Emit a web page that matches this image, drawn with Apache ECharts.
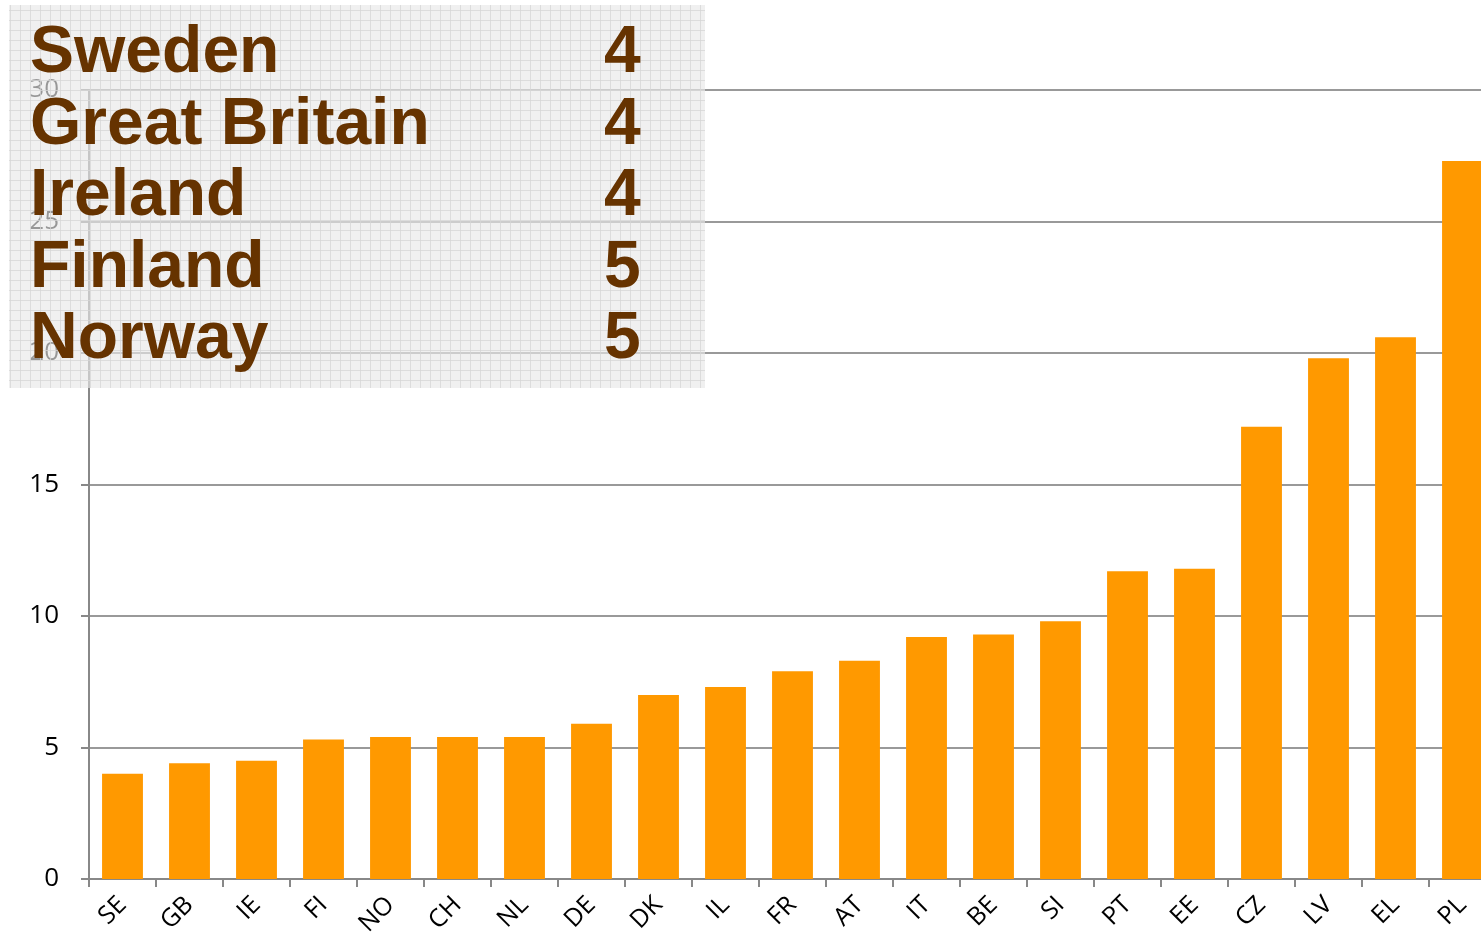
<!DOCTYPE html>
<html>
<head>
<meta charset="utf-8">
<script src="https://cdn.jsdelivr.net/npm/echarts@6/dist/echarts.min.js"></script>
<style>
  html, body { margin: 0; padding: 0; background: #fff; }
  #chart { width: 1481px; height: 943px; }
</style>
</head>
<body>
<div id="chart"></div>
<script>
// categories and values
const countries = ['SE', 'GB', 'IE', 'FI', 'NO', 'CH', 'NL', 'DE', 'DK', 'IL', 'FR',
  'AT', 'IT', 'BE', 'SI', 'PT', 'EE', 'CZ', 'LV', 'EL', 'PL']
const values = [4.0, 4.4, 4.5, 5.3, 5.4, 5.4, 5.4, 5.9, 7.0, 7.3, 7.9,
  8.3, 9.2, 9.3, 9.8, 11.7, 11.8, 17.2, 19.8, 20.6, 27.3]

// the five lowest, shown in the box
const topNames = ['Sweden', 'Great Britain', 'Ireland', 'Finland', 'Norway']
const topRanks = ['4', '4', '4', '5', '5']

// small grid pattern for the box
const pat = document.createElement('canvas')
pat.width = 10
pat.height = 10
const pc = pat.getContext('2d')
pc.fillStyle = 'rgba(232,232,232,0.65)'
pc.fillRect(0, 0, 10, 10)
pc.fillStyle = 'rgba(214,214,214,0.75)'
pc.fillRect(0, 0, 10, 1)
pc.fillRect(0, 0, 1, 10)

const textColor = '#663300'
const boxFont = 'bold 66px "Liberation Sans", Arial, sans-serif'
const boxText = []
topNames.forEach((name, i) => {
  boxText.push({
    type: 'text', z: 101, left: 30, top: 21 + i * 71.5,
    style: { text: name, font: boxFont, fill: textColor }
  })
  boxText.push({
    type: 'text', z: 101, left: 604, top: 21 + i * 71.5,
    style: { text: topRanks[i], font: boxFont, fill: textColor }
  })
})

const chart = echarts.init(document.getElementById('chart'))
chart.setOption({
  animation: false,
  grid: { left: 89, top: 90, bottom: 64, width: 1407, outerBoundsMode: 'none', containLabel: false },
  xAxis: {
    type: 'category',
    data: countries,
    axisLine: { lineStyle: { color: '#888', width: 2 } },
    axisTick: { show: true, length: 8, lineStyle: { color: '#888', width: 2 } },
    axisLabel: {
      rotate: 45, interval: 0, margin: 22,
      color: '#000', fontSize: 25, fontFamily: '"Open Sans", sans-serif'
    }
  },
  yAxis: {
    type: 'value',
    min: 0, max: 30, interval: 5,
    axisLine: { show: true, lineStyle: { color: '#888', width: 2 } },
    axisTick: { show: true, length: 8, lineStyle: { color: '#888', width: 2 } },
    axisLabel: { color: '#000', fontSize: 26, margin: 30, fontFamily: '"Open Sans", sans-serif' },
    splitLine: { lineStyle: { color: '#999', width: 2 } }
  },
  series: [{
    type: 'bar',
    data: values,
    barCategoryGap: '39%',
    itemStyle: { color: '#ff9900' }
  }],
  graphic: [
    {
      type: 'rect', z: 100,
      shape: { x: 9, y: 5, width: 696, height: 383 },
      style: { fill: { image: pat, repeat: 'repeat' } }
    },
    ...boxText
  ]
})
</script>
</body>
</html>
